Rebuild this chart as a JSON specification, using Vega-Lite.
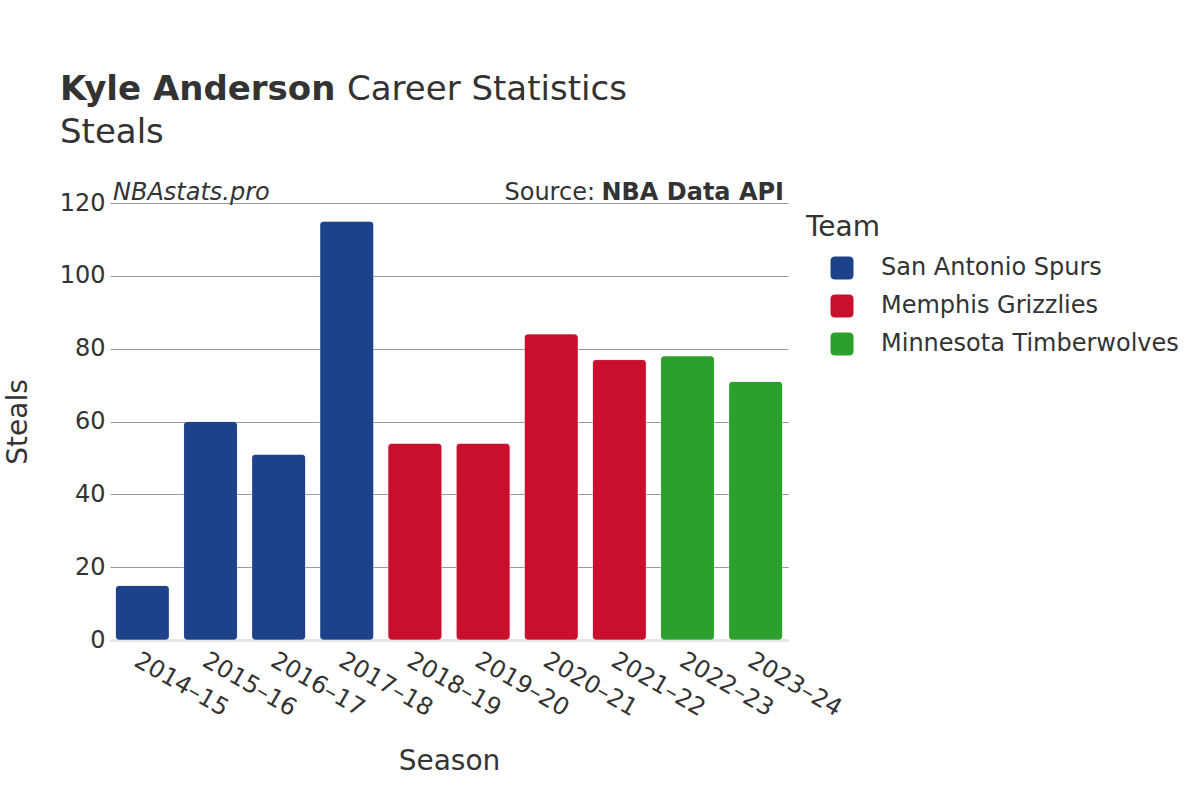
{
  "$schema": "https://vega.github.io/schema/vega-lite/v6.json",
  "autosize": "none",
  "width": 678,
  "height": 437,
  "padding": {"left": 110, "top": 203, "right": 412, "bottom": 160},
  "background": "white",
  "config": {
    "font": "DejaVu Sans",
    "view": {"stroke": null},
    "axis": {"labelColor": "#333333", "titleColor": "#333333", "titleFontWeight": "normal"}
  },
  "data": {
    "values": [
      {"Season": "2014–15", "Team": "San Antonio Spurs", "Steals": 15},
      {"Season": "2015–16", "Team": "San Antonio Spurs", "Steals": 60},
      {"Season": "2016–17", "Team": "San Antonio Spurs", "Steals": 51},
      {"Season": "2017–18", "Team": "San Antonio Spurs", "Steals": 115},
      {"Season": "2018–19", "Team": "Memphis Grizzlies", "Steals": 54},
      {"Season": "2019–20", "Team": "Memphis Grizzlies", "Steals": 54},
      {"Season": "2020–21", "Team": "Memphis Grizzlies", "Steals": 84},
      {"Season": "2021–22", "Team": "Memphis Grizzlies", "Steals": 77},
      {"Season": "2022–23", "Team": "Minnesota Timberwolves", "Steals": 78},
      {"Season": "2023–24", "Team": "Minnesota Timberwolves", "Steals": 71}
    ]
  },
  "layer": [
    {
      "mark": {"type": "bar", "cornerRadius": 4, "stroke": "white", "strokeOpacity": 0.3, "strokeWidth": 1},
      "encoding": {
        "x": {
          "field": "Season",
          "type": "ordinal",
          "sort": null,
          "scale": {"paddingInner": 0.21, "paddingOuter": 0.08},
          "axis": {
            "title": "Season",
            "titleFontSize": 28,
            "titlePadding": 27,
            "labelFontSize": 24,
            "labelAngle": 30,
            "labelAlign": "left",
            "labelBaseline": "top",
            "labelPadding": 8,
            "ticks": false,
            "domainColor": "#e6e6e6",
            "domainWidth": 3
          }
        },
        "y": {
          "field": "Steals",
          "type": "quantitative",
          "scale": {"domain": [0, 120]},
          "axis": {
            "title": "Steals",
            "titleFontSize": 28,
            "titlePadding": 27,
            "labelFontSize": 24,
            "labelPadding": 5,
            "ticks": false,
            "domain": false,
            "gridColor": "#999999",
            "gridWidth": 1,
            "values": [0, 20, 40, 60, 80, 100, 120]
          }
        },
        "color": {
          "field": "Team",
          "type": "nominal",
          "scale": {
            "domain": ["San Antonio Spurs", "Memphis Grizzlies", "Minnesota Timberwolves"],
            "range": ["#1d428a", "#c8102e", "#2ca02c"]
          },
          "legend": {
            "title": "Team",
            "orient": "none",
            "legendX": 696,
            "legendY": 11,
            "titleFontSize": 28,
            "titleFontWeight": "normal",
            "titleColor": "#333333",
            "titlePadding": 14,
            "labelFontSize": 24,
            "labelColor": "#333333",
            "labelLimit": 0,
            "labelOffset": 27,
            "symbolOffset": 24,
            "rowPadding": 14,
            "symbolType": "M -0.6,-1 L 0.6,-1 Q 1,-1 1,-0.6 L 1,0.6 Q 1,1 0.6,1 L -0.6,1 Q -1,1 -1,0.6 L -1,-0.6 Q -1,-1 -0.6,-1 Z",
            "symbolSize": 529,
            "symbolStrokeWidth": 0,
            "symbolOpacity": 1,
            "padding": 0,
            "offset": 0
          }
        }
      }
    },
    {
      "data": {"values": [{"label": "Kyle Anderson"}]},
      "mark": {"type": "text", "align": "left", "baseline": "alphabetic", "fontSize": 34, "fontWeight": "bold", "color": "#333333", "x": -50, "y": -103},
      "encoding": {"text": {"field": "label"}}
    },
    {
      "data": {"values": [{"label": "Career Statistics"}]},
      "mark": {"type": "text", "align": "left", "baseline": "alphabetic", "fontSize": 34, "color": "#333333", "x": 237, "y": -103},
      "encoding": {"text": {"field": "label"}}
    },
    {
      "data": {"values": [{"label": "Steals"}]},
      "mark": {"type": "text", "align": "left", "baseline": "alphabetic", "fontSize": 34, "color": "#333333", "x": -50, "y": -60},
      "encoding": {"text": {"field": "label"}}
    },
    {
      "data": {"values": [{"label": "NBAstats.pro"}]},
      "mark": {"type": "text", "align": "left", "baseline": "alphabetic", "fontSize": 24, "fontStyle": "italic", "color": "#333333", "x": 3, "y": -3},
      "encoding": {"text": {"field": "label"}}
    },
    {
      "data": {"values": [{"label": "NBA Data API"}]},
      "mark": {"type": "text", "align": "right", "baseline": "alphabetic", "fontSize": 24, "fontWeight": "bold", "color": "#333333", "x": 674, "y": -3},
      "encoding": {"text": {"field": "label"}}
    },
    {
      "data": {"values": [{"label": "Source:"}]},
      "mark": {"type": "text", "align": "right", "baseline": "alphabetic", "fontSize": 24, "color": "#333333", "x": 485, "y": -3},
      "encoding": {"text": {"field": "label"}}
    }
  ]
}
